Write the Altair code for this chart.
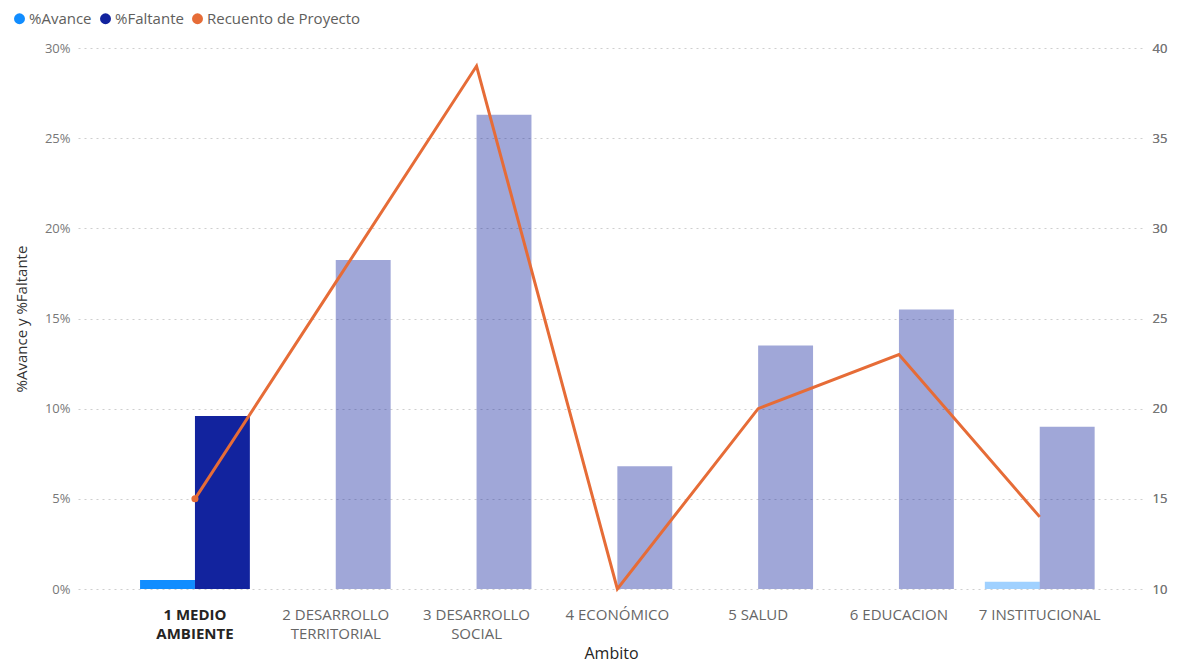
import altair as alt
import pandas as pd

categories = ["1 MEDIO AMBIENTE", "2 DESARROLLO TERRITORIAL", "3 DESARROLLO SOCIAL",
              "4 ECONÓMICO", "5 SALUD", "6 EDUCACION", "7 INSTITUCIONAL"]
avance = [0.005, 0.0, 0.0, 0.0, 0.0, 0.0, 0.004]
faltante = [0.096, 0.1825, 0.263, 0.068, 0.135, 0.155, 0.090]
recuento = [15, 27, 39, 10, 20, 23, 14]
highlighted = "1 MEDIO AMBIENTE"

series = ["%Avance", "%Faltante", "Recuento de Proyecto"]
colors = ["#118DFF", "#12239E", "#E66C37"]

FONT = "Open Sans"

rows = []
for c, a, f in zip(categories, avance, faltante):
    rows.append({"Ambito": c, "Serie": "%Avance", "valor": a, "hl": c == highlighted})
    rows.append({"Ambito": c, "Serie": "%Faltante", "valor": f, "hl": c == highlighted})
bars_df = pd.DataFrame(rows)
line_df = pd.DataFrame({"Ambito": categories, "Recuento": recuento,
                        "hl": [c == highlighted for c in categories]})

label_expr = ("indexof(substring(datum.label, 2), ' ') >= 0 ? "
              "[substring(datum.label, 0, 2 + indexof(substring(datum.label, 2), ' ')), "
              "substring(datum.label, 3 + indexof(substring(datum.label, 2), ' '))] : datum.label")

x_scale = alt.Scale(paddingInner=0.22, paddingOuter=0.3956, align=0.557)

x_enc = alt.X("Ambito:N", sort=categories, scale=x_scale,
              axis=alt.Axis(title="Ambito", labelAngle=0, labelExpr=label_expr,
                            labelFontSize=15, labelLineHeight=19, labelPadding=18,
                            labelColor=alt.expr(f"datum.value == '{highlighted}' ? '#252423' : '#666666'"),
                            labelFontWeight=alt.expr(f"datum.value == '{highlighted}' ? 'bold' : 'normal'"),
                            labelFont=FONT, domain=False, ticks=False, grid=False,
                            titleFont=FONT, titleFontSize=16, titleFontWeight="normal",
                            titleColor="#252423", titleY=56, titleBaseline="top",
                            labelLimit=200))

bars = alt.Chart(bars_df).mark_bar().encode(
    x=x_enc,
    xOffset=alt.XOffset("Serie:N", sort=["%Avance", "%Faltante"],
                        scale=alt.Scale(paddingInner=0, paddingOuter=0)),
    y=alt.Y("valor:Q", scale=alt.Scale(domain=[0, 0.30], nice=False),
            axis=alt.Axis(title="%Avance y %Faltante", format=".0%",
                          values=[0, 0.05, 0.10, 0.15, 0.20, 0.25, 0.30],
                          labelFont=FONT, labelFontSize=13, labelColor="#777777",
                          labelPadding=8, domain=False, ticks=False,
                          grid=True, gridColor="#cfcfcf", gridDash=[2, 4], gridWidth=1,
                          titleFont=FONT, titleFontSize=15, titleFontWeight="normal",
                          titleColor="#333333", titleX=-49)),
    color=alt.Color("Serie:N", scale=alt.Scale(domain=series, range=colors),
                    legend=alt.Legend(title=None, orient="none", direction="horizontal",
                                      legendX=-66, legendY=-37, symbolType="circle",
                                      symbolSize=120, labelFont=FONT, labelFontSize=15,
                                      labelColor="#605E5C", labelOffset=2,
                                      columnPadding=6, symbolStrokeWidth=0)),
    opacity=alt.condition("datum.hl", alt.value(1), alt.value(0.4)),
)

y2 = alt.Y("Recuento:Q", scale=alt.Scale(domain=[10, 40], nice=False),
           axis=alt.Axis(title=None, orient="right", values=[10, 15, 20, 25, 30, 35, 40],
                         labelFont=FONT, labelFontSize=13, labelColor="#777777",
                         labelPadding=8, domain=False, ticks=False, grid=False))

line = alt.Chart(line_df).mark_line(color="#E66C37", strokeWidth=3).encode(
    x=alt.X("Ambito:N", sort=categories), y=y2)

dot = alt.Chart(line_df).transform_filter("datum.hl").mark_point(
    filled=True, color="#E66C37", size=50, opacity=1).encode(
    x=alt.X("Ambito:N", sort=categories), y=y2)

W = 1066
H = 541
chart = alt.layer(bars, line, dot).resolve_scale(y="independent").properties(
    width=W, height=H,
    autosize=alt.AutoSizeParams(type="none"),
    padding={"left": 70, "top": 40, "right": 1166 - 70 - W, "bottom": 654 - 40 - H},
    background="white",
).configure_view(stroke=None)

chart.save("out.html", embed_options={"renderer": "svg", "actions": False})
